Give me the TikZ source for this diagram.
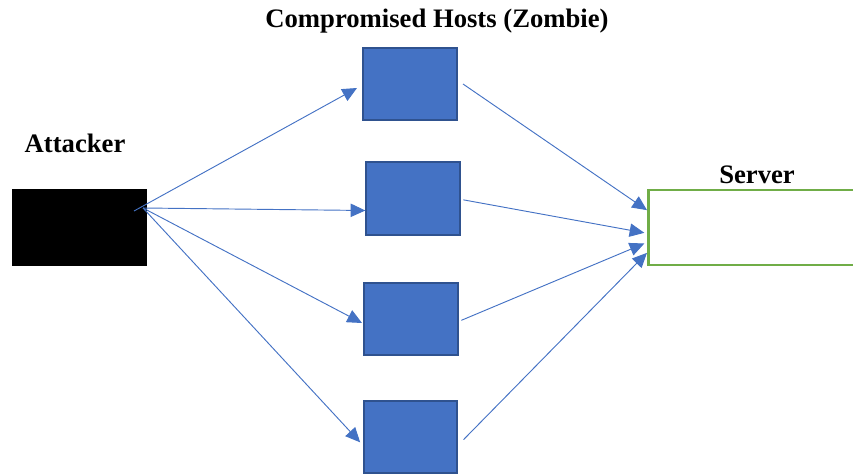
\documentclass[tikz,border=0pt]{standalone}
\usepackage{fontspec}
\setmainfont{Liberation Serif}
\usetikzlibrary{arrows.meta}
\definecolor{hostblue}{HTML}{4472C4}
\definecolor{hostedge}{HTML}{2F528F}
\definecolor{srvgreen}{HTML}{70AD47}
\tikzset{
  host/.style={draw=hostedge, fill=hostblue, line width=1.5pt, minimum width=70pt, minimum height=54pt, inner sep=0pt},
  label/.style={font=\fontsize{20}{22}\selectfont\bfseries, inner sep=0pt},
  link/.style={draw=hostblue, line width=0.7pt, -{Triangle[length=11pt,width=10pt]}},
}
\begin{document}
\begin{tikzpicture}[x=0.75pt,y=-0.75pt]
  \useasboundingbox (0,0) rectangle (853,474);
  % attacker
  \node[fill=black, minimum width=101pt, minimum height=58pt, inner sep=0pt] (att) at (79.5,227.5) {};
  \node[label] (attlbl) at (75,143) {Attacker};
  \coordinate (src) at (143,208);
  % zombies
  \node[label] (zlbl) at (437,21) {Compromised Hosts (Zombie)};
  \node[host] (h1) at (410,84) {};
  \node[host] (h2) at (413,198.5) {};
  \node[host] (h3) at (411,319) {};
  \node[host] (h4) at (410.5,437) {};
  % server
  \node[draw=srvgreen, line width=2pt, minimum width=165pt, minimum height=56pt, inner sep=0pt, anchor=west] (srv) at (647,227.5) {};
  \node[label] (srvlbl) at (757,175) {Server};
  % attacker to zombies
  \draw[link] (134,211) -- ([xshift=-4pt,yshift=-3pt]h1.west);
  \draw[link] (src) -- ([yshift=-9pt]h2.west);
  \draw[link] (src) -- ([xshift=-1pt,yshift=-3pt]h3.west);
  \draw[link] (src) -- ([xshift=-2pt,yshift=-4pt]h4.west);
  % zombies to server
  \draw[link] ([xshift=4pt]h1.east) -- ([yshift=13pt]srv.west);
  \draw[link] ([xshift=2pt,yshift=-1pt]h2.east) -- ([xshift=-2pt,yshift=-4pt]srv.west);
  \draw[link] ([xshift=2pt,yshift=-1pt]h3.east) -- ([xshift=-2pt,yshift=-12pt]srv.west);
  \draw[link] ([xshift=4pt,yshift=-2pt]h4.east) -- ([xshift=0pt,yshift=-19pt]srv.west);
\end{tikzpicture}
\end{document}
